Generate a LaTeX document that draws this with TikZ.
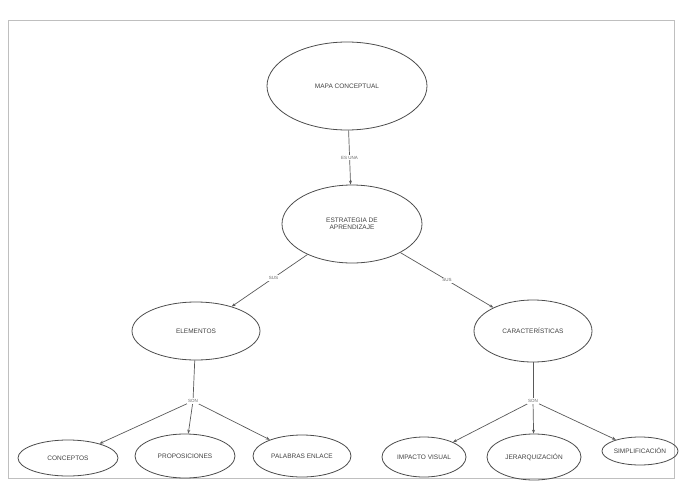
\documentclass[tikz,border=0pt]{standalone}
\usepackage{fontspec}
\setmainfont{Liberation Sans}
\usetikzlibrary{arrows.meta,shapes.geometric}
\begin{document}
\begin{tikzpicture}[x=1pt,y=-1pt,
  concept/.style={draw=black!70, line width=0.8pt, ellipse, inner sep=0pt, text=black!75,
    font=\fontsize{6.5}{7.5}\selectfont, align=center},
  link/.style={draw=black!65, line width=0.7pt},
  arr/.style={link, -{Stealth[length=4pt,width=3pt]}},
  lbl/.style={fill=white, inner sep=1pt, text=black!60, font=\fontsize{4.5}{5}\selectfont}]
\useasboundingbox (0,0) rectangle (681,485);
\draw[black!25, line width=0.5pt] (8,20) rectangle (674,478);

\node[concept, minimum width=160pt, minimum height=88pt] (mapa) at (347,86) {MAPA CONCEPTUAL};
\node[concept, minimum width=140pt, minimum height=78pt] (estr) at (352,224) {ESTRATEGIA DE\\APRENDIZAJE};
\node[concept, minimum width=128pt, minimum height=58pt] (elem) at (196,331) {ELEMENTOS};
\node[concept, minimum width=118pt, minimum height=62pt] (cara) at (533,331) {CARACTERÍSTICAS};

\node[concept, minimum width=100pt, minimum height=36pt] (conc) at (68,458) {CONCEPTOS};
\node[concept, minimum width=100pt, minimum height=44pt] (prop) at (185,456) {PROPOSICIONES};
\node[concept, minimum width=98pt, minimum height=42pt] (pala) at (302,456) {PALABRAS ENLACE};
\node[concept, minimum width=84pt, minimum height=40pt] (impa) at (424,457) {IMPACTO VISUAL};
\node[concept, minimum width=94pt, minimum height=46pt] (jera) at (534,457) {JERARQUIZACIÓN};
\node[concept, minimum width=76pt, minimum height=28pt] (simp) at (640,451) {SIMPLIFICACIÓN};

\draw[arr] (mapa) -- node[lbl] {ES UNA} (estr);
\draw[arr] (estr) -- node[lbl, pos=0.45] {SUS} (elem);
\draw[arr] (estr) -- node[lbl, pos=0.5] {SUS} (cara);

\coordinate (j1) at (193,401);
\coordinate (j2) at (533,401);
\draw[link] (elem) -- (j1);
\draw[link] (cara) -- (j2);
\draw[arr] (j1) -- (conc);
\draw[arr] (j1) -- (prop);
\draw[arr] (j1) -- (pala);
\draw[arr] (j2) -- (impa);
\draw[arr] (j2) -- (jera);
\draw[arr] (j2) -- (simp);
\node[lbl] at (j1) {SON};
\node[lbl] at (j2) {SON};
\end{tikzpicture}
\end{document}
